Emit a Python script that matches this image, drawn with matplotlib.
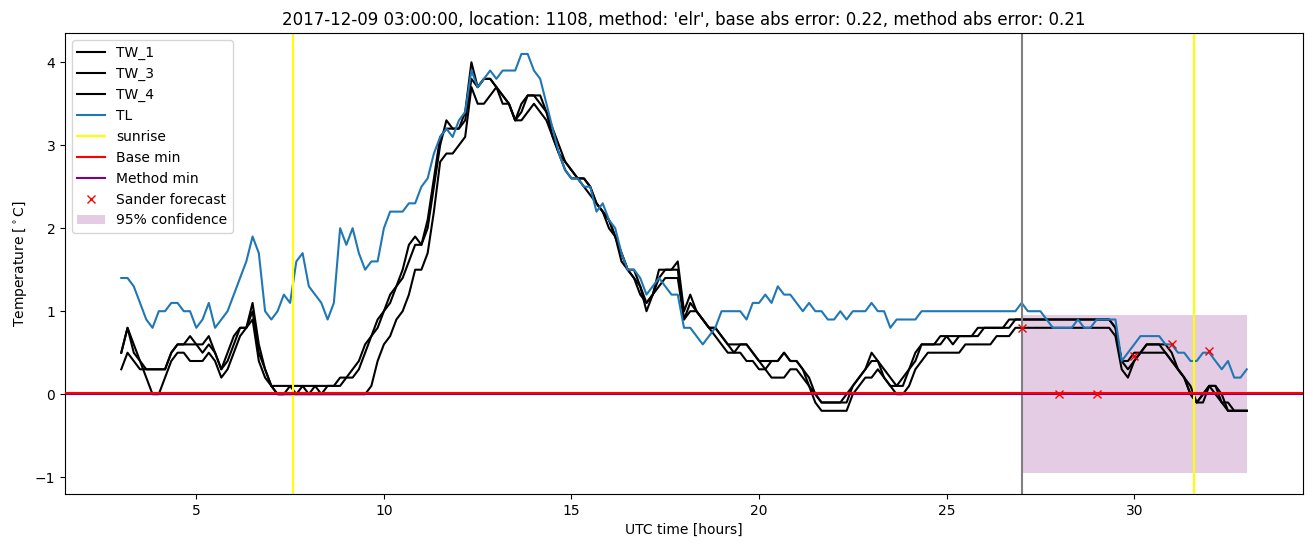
import matplotlib
matplotlib.use('Agg')
import matplotlib.pyplot as plt
import numpy as np

# 10 minute samples, 03:00 -> 33:00 (hours since 2017-12-09 00:00 UTC)
start_hour = 3.0
step_hours = 1 / 6

tl = [
    1.4, 1.4, 1.3, 1.1, 0.9, 0.8,
    1.0, 1.0, 1.1, 1.1, 1.0, 1.0,
    0.8, 0.9, 1.1, 0.8, 0.9, 1.0,
    1.2, 1.4, 1.6, 1.9, 1.7, 1.0,
    0.9, 1.0, 1.2, 1.1, 1.6, 1.7,
    1.3, 1.2, 1.1, 0.9, 1.1, 2.0,
    1.8, 2.0, 1.7, 1.5, 1.6, 1.6,
    2.0, 2.2, 2.2, 2.2, 2.3, 2.3,
    2.5, 2.6, 2.9, 3.1, 3.2, 3.1,
    3.3, 3.4, 3.9, 3.7, 3.8, 3.9,
    3.8, 3.9, 3.9, 3.9, 4.1, 4.1,
    3.9, 3.8, 3.5, 3.2, 2.9, 2.7,
    2.6, 2.6, 2.5, 2.5, 2.2, 2.3,
    2.1, 2.0, 1.7, 1.5, 1.5, 1.4,
    1.2, 1.3, 1.4, 1.3, 1.2, 1.2,
    0.8, 0.8, 0.7, 0.6, 0.7, 0.8,
    1.0, 1.0, 1.0, 1.0, 0.9, 1.1,
    1.1, 1.2, 1.1, 1.3, 1.2, 1.2,
    1.1, 1.0, 1.1, 1.0, 1.0, 0.9,
    0.9, 1.0, 0.9, 1.0, 1.0, 1.0,
    1.1, 1.0, 1.0, 0.8, 0.9, 0.9,
    0.9, 0.9, 1.0, 1.0, 1.0, 1.0,
    1.0, 1.0, 1.0, 1.0, 1.0, 1.0,
    1.0, 1.0, 1.0, 1.0, 1.0, 1.0,
    1.1, 1.0, 1.0, 1.0, 0.9, 0.8,
    0.8, 0.8, 0.8, 0.9, 0.8, 0.8,
    0.9, 0.9, 0.9, 0.9, 0.4, 0.5,
    0.6, 0.7, 0.7, 0.7, 0.7, 0.6,
    0.6, 0.5, 0.5, 0.4, 0.4, 0.5,
    0.5, 0.4, 0.3, 0.4, 0.2, 0.2,
    0.3,
]

tw_1 = [
    0.5, 0.8, 0.6, 0.4, 0.2, 0.0,
    0.0, 0.2, 0.4, 0.5, 0.5, 0.4,
    0.4, 0.4, 0.5, 0.4, 0.2, 0.3,
    0.5, 0.7, 0.8, 0.9, 0.4, 0.2,
    0.1, 0.0, 0.0, 0.1, 0.0, 0.1,
    0.0, 0.1, 0.0, 0.1, 0.1, 0.1,
    0.2, 0.2, 0.3, 0.5, 0.7, 0.8,
    1.0, 1.1, 1.3, 1.4, 1.6, 1.8,
    1.8, 2.0, 2.5, 3.0, 3.3, 3.2,
    3.2, 3.4, 4.0, 3.7, 3.8, 3.8,
    3.7, 3.6, 3.5, 3.3, 3.5, 3.6,
    3.6, 3.6, 3.4, 3.2, 3.0, 2.8,
    2.7, 2.6, 2.6, 2.5, 2.3, 2.2,
    2.1, 1.9, 1.7, 1.5, 1.5, 1.3,
    1.0, 1.2, 1.5, 1.5, 1.5, 1.6,
    1.0, 1.2, 1.0, 0.9, 0.8, 0.8,
    0.7, 0.6, 0.5, 0.6, 0.6, 0.5,
    0.4, 0.4, 0.4, 0.4, 0.5, 0.4,
    0.4, 0.3, 0.2, 0.0, -0.1, -0.1,
    -0.1, -0.1, 0.0, 0.1, 0.2, 0.3,
    0.5, 0.4, 0.2, 0.1, 0.1, 0.2,
    0.3, 0.5, 0.6, 0.6, 0.6, 0.6,
    0.7, 0.6, 0.7, 0.7, 0.7, 0.7,
    0.8, 0.8, 0.8, 0.8, 0.8, 0.9,
    0.9, 0.9, 0.9, 0.9, 0.9, 0.9,
    0.9, 0.9, 0.9, 0.9, 0.9, 0.9,
    0.9, 0.9, 0.9, 0.8, 0.4, 0.3,
    0.4, 0.5, 0.6, 0.6, 0.6, 0.5,
    0.4, 0.3, 0.2, 0.0, -0.1, 0.0,
    0.1, 0.1, -0.1, -0.2, -0.2, -0.2,
    -0.2,
]

tw_3 = [
    0.5, 0.8, 0.5, 0.4, 0.3, 0.3,
    0.3, 0.3, 0.5, 0.6, 0.6, 0.7,
    0.6, 0.6, 0.7, 0.5, 0.3, 0.5,
    0.7, 0.8, 0.8, 1.1, 0.6, 0.3,
    0.1, 0.1, 0.1, 0.1, 0.1, 0.1,
    0.1, 0.1, 0.1, 0.1, 0.1, 0.2,
    0.2, 0.3, 0.4, 0.6, 0.7, 0.9,
    1.0, 1.2, 1.3, 1.5, 1.8, 1.9,
    1.8, 2.1, 2.6, 3.1, 3.2, 3.2,
    3.2, 3.3, 3.8, 3.7, 3.8, 3.8,
    3.7, 3.6, 3.5, 3.3, 3.4, 3.6,
    3.6, 3.5, 3.4, 3.1, 2.9, 2.8,
    2.7, 2.6, 2.6, 2.5, 2.3, 2.2,
    2.1, 1.9, 1.7, 1.5, 1.4, 1.3,
    1.1, 1.2, 1.4, 1.5, 1.5, 1.5,
    0.9, 1.1, 1.0, 0.9, 0.8, 0.8,
    0.7, 0.6, 0.6, 0.6, 0.6, 0.5,
    0.4, 0.3, 0.4, 0.4, 0.5, 0.4,
    0.4, 0.3, 0.1, 0.0, -0.1, -0.1,
    -0.1, -0.1, -0.1, 0.1, 0.2, 0.3,
    0.4, 0.4, 0.3, 0.2, 0.1, 0.1,
    0.3, 0.4, 0.6, 0.6, 0.6, 0.7,
    0.7, 0.7, 0.7, 0.7, 0.7, 0.8,
    0.8, 0.8, 0.8, 0.8, 0.9, 0.9,
    0.9, 0.9, 0.9, 0.9, 0.9, 0.9,
    0.9, 0.9, 0.9, 0.9, 0.9, 0.9,
    0.9, 0.9, 0.9, 0.8, 0.4, 0.4,
    0.5, 0.5, 0.6, 0.6, 0.6, 0.6,
    0.5, 0.3, 0.2, 0.1, -0.1, -0.1,
    0.1, 0.0, -0.1, -0.1, -0.2, -0.2,
    -0.2,
]

tw_4 = [
    0.3, 0.5, 0.4, 0.3, 0.3, 0.3,
    0.3, 0.3, 0.5, 0.6, 0.6, 0.6,
    0.6, 0.5, 0.6, 0.5, 0.3, 0.4,
    0.6, 0.8, 0.8, 1.0, 0.5, 0.3,
    0.1, 0.0, 0.0, 0.0, 0.0, 0.0,
    0.0, 0.0, 0.0, 0.0, 0.0, 0.0,
    0.0, 0.0, 0.0, 0.0, 0.1, 0.4,
    0.6, 0.7, 0.9, 1.0, 1.2, 1.5,
    1.5, 1.7, 2.2, 2.8, 2.9, 2.9,
    3.0, 3.1, 3.7, 3.5, 3.5, 3.6,
    3.7, 3.5, 3.5, 3.3, 3.3, 3.4,
    3.5, 3.4, 3.3, 3.1, 2.9, 2.7,
    2.6, 2.6, 2.5, 2.4, 2.3, 2.2,
    2.0, 1.9, 1.6, 1.5, 1.4, 1.2,
    1.1, 1.2, 1.3, 1.4, 1.4, 1.4,
    0.9, 1.0, 1.0, 0.9, 0.8, 0.7,
    0.6, 0.5, 0.5, 0.5, 0.4, 0.4,
    0.3, 0.3, 0.2, 0.2, 0.2, 0.3,
    0.3, 0.2, 0.1, -0.1, -0.2, -0.2,
    -0.2, -0.2, -0.2, 0.0, 0.1, 0.2,
    0.2, 0.3, 0.2, 0.1, 0.0, 0.0,
    0.1, 0.3, 0.4, 0.5, 0.5, 0.5,
    0.5, 0.5, 0.5, 0.6, 0.6, 0.6,
    0.6, 0.6, 0.7, 0.7, 0.7, 0.8,
    0.8, 0.8, 0.8, 0.8, 0.8, 0.8,
    0.8, 0.8, 0.8, 0.8, 0.8, 0.8,
    0.8, 0.8, 0.8, 0.7, 0.3, 0.2,
    0.4, 0.5, 0.5, 0.5, 0.5, 0.5,
    0.4, 0.3, 0.2, 0.0, -0.1, 0.0,
    0.1, 0.1, 0.0, -0.2, -0.2, -0.2,
    -0.2,
]

sunrise_hours = [7.58, 31.6]
base_min = 0.015
method_min = 0.0
forecast_start = 27
forecast_hours = [27, 28, 29, 30, 31, 32]
sander_forecast = [0.8, 0.0, 0.0, 0.46, 0.6, 0.52]
confidence_span = (27, 33)
confidence_band = (-0.95, 0.95)

title = ("2017-12-09 03:00:00, location: 1108, method: 'elr', "
         "base abs error: 0.22, method abs error: 0.21")


if __name__ == '__main__':
    hours = start_hour + np.arange(len(tl)) * step_hours

    fig, ax = plt.subplots(figsize=(13.13, 5.47), dpi=100)
    fig.subplots_adjust(left=0.0495, right=0.9924, top=0.9397, bottom=0.0969)

    ax.plot(hours, tw_1, color='black', label='TW_1')
    ax.plot(hours, tw_3, color='black', label='TW_3')
    ax.plot(hours, tw_4, color='black', label='TW_4')
    ax.plot(hours, tl, color='C0', label='TL')

    ax.axvline(sunrise_hours[0], color='yellow', label='sunrise')
    ax.axvline(sunrise_hours[1], color='yellow')
    ax.axvline(forecast_start, color='grey')

    ax.axhline(base_min, color='red', label='Base min', zorder=3)
    ax.axhline(method_min, color='purple', label='Method min')

    ax.plot(forecast_hours, sander_forecast, 'rx', label='Sander forecast')
    ax.fill_between(confidence_span, confidence_band[0], confidence_band[1],
                    color='purple', alpha=0.2, linewidth=0, label='95% confidence')

    ax.set_title(title)
    ax.set_xlabel('UTC time [hours]')
    ax.set_ylabel(r'Temperature [$^\circ$C]')
    ax.legend(loc='upper left')

    fig.savefig('out.png', dpi=100)
